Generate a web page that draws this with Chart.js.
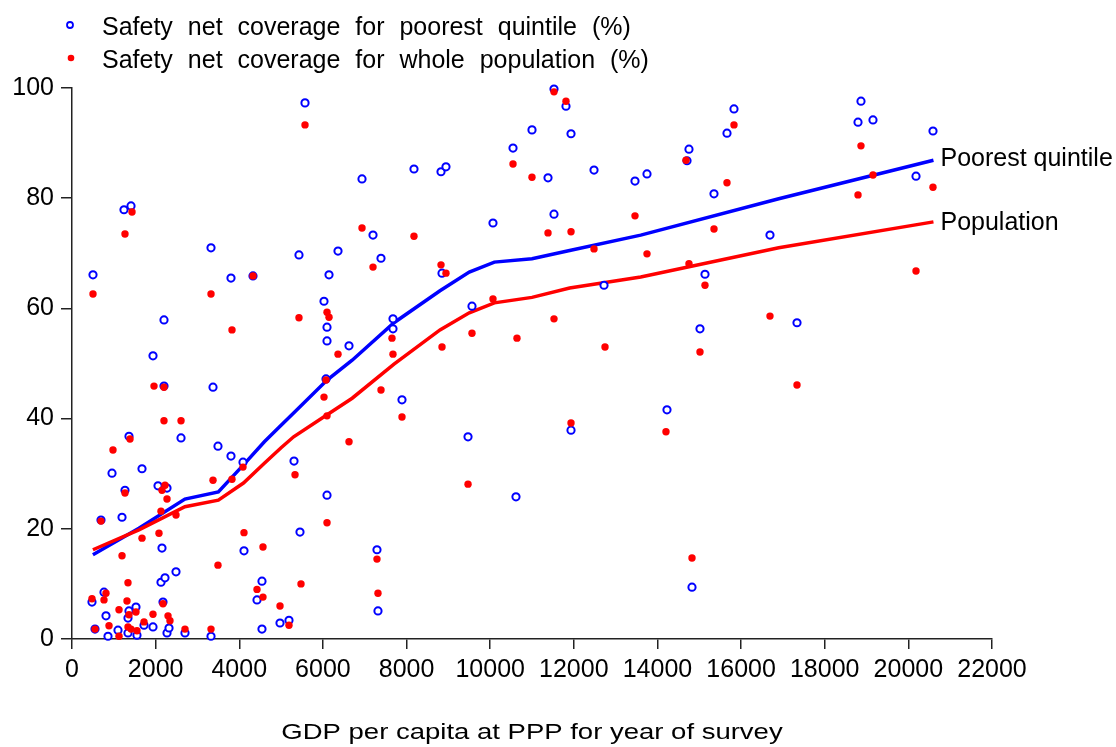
<!DOCTYPE html>
<html>
<head>
<meta charset="utf-8">
<title>Safety net coverage and GDP per capita</title>
<script src="https://cdn.jsdelivr.net/npm/chart.js@4.4.1/dist/chart.umd.min.js"></script>
<style>
  html, body { margin: 0; padding: 0; background: #fff; }
  #wrap { width: 1116px; height: 747px; }
</style>
</head>
<body>
<div id="wrap"><canvas id="coverageChart"></canvas></div>
<script>
// tick labels
const xTicks = [0, 2000, 4000, 6000, 8000, 10000, 12000, 14000, 16000, 18000, 20000, 22000];
const yTicks = [0, 20, 40, 60, 80, 100];

// legend / labels
const legendLabels = ['Safety net coverage for poorest quintile (%)', 'Safety net coverage for whole population (%)'];
const lineLabels = ['Poorest quintile', 'Population'];
const xTitle = 'GDP per capita at PPP for year of survey';

// [GDP per capita, coverage %] for each country survey
const poorestQuintile = [
  [478, 6.7], [502, 66.1], [550, 1.8], [693, 21.6], [765, 8.5], [813, 4.2], [861, 0.5], [957, 30.1],
  [1100, 1.6], [1196, 22.1], [1243, 77.9], [1267, 27.0], [1339, 3.8], [1339, 1.1], [1363, 36.8],
  [1363, 5.1], [1411, 78.6], [1530, 5.8], [1554, 0.7], [1674, 30.9], [1722, 2.5], [1937, 51.4],
  [1937, 2.2], [2057, 27.8], [2128, 10.3], [2152, 16.5], [2176, 6.7], [2200, 57.9], [2200, 45.9],
  [2224, 11.1], [2272, 27.4], [2272, 1.1], [2320, 2.0], [2487, 12.2], [2607, 36.5], [2702, 1.1],
  [3324, 71.0], [3324, 0.5], [3372, 45.7], [3491, 35.0], [3802, 65.5], [3802, 33.2], [4089, 32.1],
  [4113, 16.0], [4328, 65.9], [4424, 7.1], [4543, 10.5], [4543, 1.8], [4974, 2.9], [5189, 3.4],
  [5309, 32.3], [5428, 69.7], [5452, 19.4], [5572, 97.3], [6026, 61.3], [6074, 47.2], [6098, 56.6],
  [6098, 54.1], [6098, 26.1], [6146, 66.1], [6361, 70.4], [6624, 53.2], [6935, 83.5], [7198, 73.3],
  [7293, 16.2], [7317, 5.1], [7389, 69.1], [7676, 58.1], [7676, 56.3], [7891, 43.4], [8178, 85.3],
  [8824, 84.8], [8848, 66.4], [8943, 85.7], [9470, 36.7], [9565, 60.4], [10067, 75.5], [10546, 89.1],
  [10617, 25.8], [11000, 92.4], [11383, 83.7], [11526, 77.1], [11526, 99.8], [11813, 96.7],
  [11933, 91.7], [11933, 37.9], [12483, 85.1], [12722, 64.2], [13463, 83.1], [13750, 84.4],
  [14228, 41.6], [14707, 86.8], [14754, 88.9], [14826, 9.4], [15017, 56.3], [15137, 66.2],
  [15352, 80.8], [15663, 91.8], [15830, 96.2], [16691, 73.3], [17337, 57.4], [18796, 93.8],
  [18867, 97.6], [19154, 94.2], [20183, 84.0], [20589, 92.2]
];

const wholePopulation = [
  [478, 7.3], [502, 62.6], [550, 1.8], [693, 21.4], [765, 7.1], [813, 8.3], [885, 2.4], [980, 34.3],
  [1124, 5.3], [1124, 0.5], [1196, 15.1], [1267, 73.5], [1267, 26.5], [1315, 6.9], [1339, 10.2],
  [1339, 2.2], [1363, 4.4], [1387, 36.3], [1411, 1.8], [1435, 77.5], [1530, 4.9], [1554, 1.5],
  [1674, 18.3], [1722, 3.1], [1937, 4.5], [1961, 45.9], [2080, 19.2], [2128, 23.2], [2152, 27.0],
  [2176, 6.4], [2200, 45.7], [2200, 39.6], [2224, 27.9], [2272, 25.4], [2296, 4.2], [2343, 3.3],
  [2487, 22.5], [2607, 39.6], [2702, 1.8], [3324, 62.6], [3324, 1.8], [3372, 28.8], [3491, 13.4],
  [3826, 56.1], [3826, 29.0], [4089, 31.2], [4113, 19.3], [4328, 65.9], [4424, 9.0], [4567, 16.7],
  [4567, 7.6], [4974, 6.0], [5189, 2.5], [5333, 29.8], [5428, 58.3], [5476, 10.0], [5572, 93.3],
  [6026, 43.9], [6074, 47.0], [6098, 59.3], [6098, 40.5], [6098, 21.1], [6146, 58.4], [6361, 51.7],
  [6624, 35.8], [6935, 74.6], [7198, 67.5], [7293, 14.5], [7317, 8.3], [7389, 45.2], [7652, 54.6],
  [7676, 51.7], [7891, 40.3], [8178, 73.1], [8824, 67.9], [8848, 53.0], [8943, 66.4], [9470, 28.1],
  [9565, 55.5], [10067, 61.7], [10546, 86.2], [10641, 54.6], [11000, 83.8], [11383, 73.7],
  [11526, 99.3], [11526, 58.1], [11813, 97.6], [11933, 73.9], [11933, 39.2], [12483, 70.8],
  [12746, 53.0], [13463, 76.8], [13750, 69.9], [14204, 37.6], [14683, 86.9], [14754, 68.1],
  [14826, 14.7], [15017, 52.1], [15137, 64.2], [15352, 74.4], [15663, 82.8], [15830, 93.3],
  [16691, 58.6], [17337, 46.1], [18796, 80.6], [18867, 89.5], [19154, 84.2], [20183, 66.8],
  [20589, 82.0]
];

// smoothed fits
const fitGdp = [500, 1600, 2700, 3500, 4100, 4600, 5000, 5300, 6100, 6700, 7700, 8800, 9500, 10100, 11000, 11900, 13600, 16900, 20600];
const poorestFit = [15.3, 20.1, 25.4, 26.7, 31.6, 35.8, 38.8, 41.0, 47.0, 50.6, 57.4, 63.2, 66.6, 68.4, 69.0, 70.5, 73.3, 79.9, 86.9];
const populationFit = [16.2, 19.8, 24.0, 25.2, 28.3, 31.9, 34.7, 36.7, 40.7, 43.7, 49.9, 56.1, 59.2, 61.0, 62.0, 63.7, 65.7, 71.0, 75.7];

const BLUE = '#0000ff';
const RED = '#ff0000';
const FONT = '"Liberation Sans", Arial, sans-serif';

const toPoints = pairs => pairs.map(p => ({ x: p[0], y: p[1] }));
const toLine = (xs, ys) => xs.map((x, i) => ({ x: x, y: ys[i] }));

// legend, line end labels and the (stretched) axis title
const annotations = {
  id: 'annotations',
  afterDraw(chart) {
    const ctx = chart.ctx;
    const xs = chart.scales.x, ys = chart.scales.y;
    ctx.save();
    ctx.fillStyle = '#000';
    ctx.textAlign = 'left';
    ctx.textBaseline = 'alphabetic';

    // legend
    ctx.font = '25px ' + FONT;
    if ('wordSpacing' in ctx) ctx.wordSpacing = '8px';
    const rows = [35, 68];
    legendLabels.forEach((txt, i) => {
      const my = rows[i] - 10;
      ctx.beginPath();
      if (i === 0) {
        ctx.arc(70, my, 3, 0, Math.PI * 2);
        ctx.strokeStyle = BLUE;
        ctx.lineWidth = 1.8;
        ctx.stroke();
      } else {
        ctx.arc(71, my, 3.3, 0, Math.PI * 2);
        ctx.fillStyle = RED;
        ctx.fill();
        ctx.fillStyle = '#000';
      }
      ctx.fillText(txt, 102, rows[i]);
    });
    if ('wordSpacing' in ctx) ctx.wordSpacing = '0px';

    // labels at the end of fitted lines
    const last = fitGdp.length - 1;
    const lx = xs.getPixelForValue(fitGdp[last]) + 7;
    ctx.fillText(lineLabels[0], lx, ys.getPixelForValue(poorestFit[last]) + 6);
    ctx.fillText(lineLabels[1], lx, ys.getPixelForValue(populationFit[last]) + 8);

    // x axis title, horizontally stretched like the original
    ctx.font = '22px ' + FONT;
    ctx.textAlign = 'center';
    ctx.translate((chart.chartArea.left + chart.chartArea.right) / 2, 739);
    ctx.scale(1.25, 1);
    ctx.fillText(xTitle, 0, 0);
    ctx.restore();
  }
};

const ctx = document.getElementById('coverageChart').getContext('2d');
const coverageChart = new Chart(ctx, {
  type: 'scatter',
  data: {
    datasets: [
      {
        label: lineLabels[0],
        data: toLine(fitGdp, poorestFit),
        showLine: true,
        borderColor: BLUE,
        borderWidth: 3.5,
        pointRadius: 0,
        fill: false,
        order: 4
      },
      {
        label: lineLabels[1],
        data: toLine(fitGdp, populationFit),
        showLine: true,
        borderColor: RED,
        borderWidth: 3.5,
        pointRadius: 0,
        fill: false,
        order: 3
      },
      {
        label: legendLabels[0],
        data: toPoints(poorestQuintile),
        pointStyle: 'circle',
        pointRadius: 3.6,
        pointBorderWidth: 2,
        borderColor: BLUE,
        backgroundColor: '#ffffff',
        clip: false,
        order: 2
      },
      {
        label: legendLabels[1],
        data: toPoints(wholePopulation),
        pointStyle: 'circle',
        pointRadius: 3.7,
        pointBorderWidth: 0,
        borderColor: RED,
        backgroundColor: RED,
        clip: false,
        order: 1
      }
    ]
  },
  options: {
    responsive: true,
    maintainAspectRatio: false,
    animation: false,
    layout: { padding: { top: 88, right: 124, left: 0, bottom: 0 } },
    plugins: {
      legend: { display: false },
      tooltip: { enabled: false }
    },
    scales: {
      x: {
        type: 'linear',
        min: 0,
        max: 22000,
        afterFit: s => { s.height = 108; },
        afterBuildTicks: s => { s.ticks = xTicks.map(v => ({ value: v })); },
        grid: { drawOnChartArea: false, drawTicks: true, tickLength: 10, color: '#222', lineWidth: 1.5 },
        border: { display: true, color: '#222', width: 1.5 },
        ticks: {
          color: '#000',
          padding: 6,
          maxRotation: 0,
          autoSkip: false,
          font: { family: FONT, size: 25 },
          callback: v => String(v)
        }
      },
      y: {
        type: 'linear',
        min: 0,
        max: 100,
        afterFit: s => { s.width = 72; },
        afterBuildTicks: s => { s.ticks = yTicks.map(v => ({ value: v })); },
        grid: { drawOnChartArea: false, drawTicks: true, tickLength: 11, color: '#222', lineWidth: 1.5 },
        border: { display: true, color: '#222', width: 1.5 },
        ticks: {
          color: '#000',
          padding: 7,
          font: { family: FONT, size: 25 },
          callback: v => String(v)
        }
      }
    }
  },
  plugins: [annotations]
});
</script>
</body>
</html>
